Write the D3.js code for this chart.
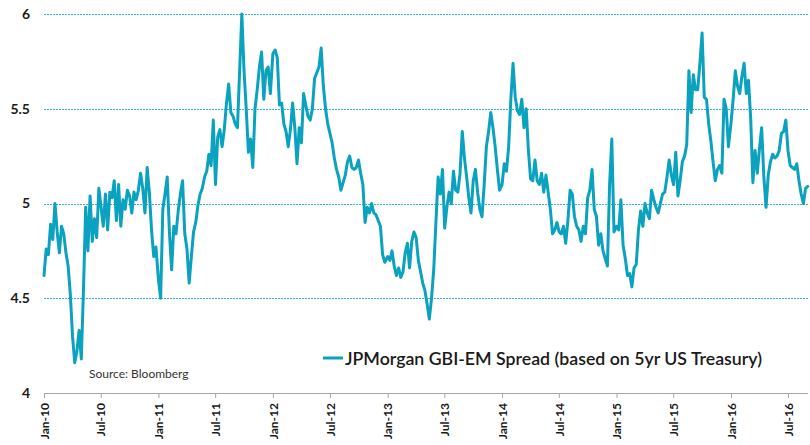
<!DOCTYPE html>
<html>
<head>
<meta charset="utf-8">
<script src="https://cdn.jsdelivr.net/npm/d3@7/dist/d3.min.js"></script>
<style>
  html, body { margin: 0; padding: 0; background: #fff; }
  svg { display: block; }
</style>
</head>
<body>
<svg id="chart" width="810" height="445"></svg>
<script>
// Weekly readings of the JPMorgan GBI-EM spread, one array per calendar year
const spread2010 = [4.62,4.76,4.73,4.89,4.81,5.00,4.85,4.74,4.88,4.84,4.74,4.67,4.52,4.30,4.16,4.22,4.33,4.18,4.55,4.98,4.75,5.04,4.80,4.92,4.82,5.08,4.98,4.88,5.05,4.86,5.06,5.03,5.12,4.91,5.10,4.88,5.02,4.97,5.07,5.04,4.95,5.06,5.02,5.07,5.16,5.08,4.95,5.19,5.06,4.86,4.72,4.77];
const spread2011 = [4.60,4.50,4.97,5.05,5.14,4.85,4.65,4.88,4.84,4.96,5.05,5.12,4.84,4.76,4.58,4.72,4.85,4.90,4.99,5.05,5.08,5.14,5.17,5.26,5.20,5.44,5.10,5.35,5.39,5.30,5.39,5.53,5.63,5.48,5.46,5.42,5.40,5.70,6.00,5.70,5.50,5.27,5.34,5.19,5.50,5.60,5.72,5.80,5.55,5.70,5.72,5.58];
const spread2012 = [5.79,5.81,5.77,5.52,5.53,5.42,5.38,5.30,5.39,5.53,5.40,5.21,5.40,5.32,5.58,5.52,5.46,5.44,5.50,5.66,5.69,5.72,5.82,5.62,5.50,5.42,5.37,5.32,5.24,5.18,5.14,5.07,5.11,5.15,5.22,5.25,5.19,5.18,5.19,5.23,5.16,5.10,4.90,4.98,4.95,5.00,4.95,4.94,4.91,4.88,4.73,4.69];
const spread2013 = [4.72,4.70,4.75,4.67,4.62,4.66,4.61,4.64,4.74,4.79,4.66,4.80,4.85,4.82,4.70,4.64,4.58,4.54,4.47,4.39,4.50,4.65,4.90,5.14,5.05,5.18,4.87,4.98,5.06,5.00,5.17,5.07,5.06,5.16,5.38,5.24,5.14,5.03,4.95,5.12,5.18,5.06,4.97,4.93,5.10,5.30,5.38,5.48,5.40,5.30,5.18,5.07];
const spread2014 = [5.10,5.21,5.17,5.30,5.55,5.74,5.56,5.49,5.47,5.55,5.40,5.50,5.28,5.13,5.12,5.23,5.12,5.10,5.16,5.06,5.15,5.06,4.97,4.84,4.86,4.90,4.85,4.84,4.88,4.79,4.91,5.07,5.05,4.93,4.88,4.86,4.80,4.88,4.84,5.03,5.07,5.18,4.97,4.93,4.78,4.84,4.75,4.71,4.67,5.10,5.34,4.85];
const spread2015 = [4.88,4.86,5.02,4.78,4.71,4.62,4.63,4.56,4.66,4.68,4.86,4.96,4.88,5.00,4.95,4.92,5.07,5.02,4.98,4.95,5.00,5.05,5.06,5.14,5.23,5.15,5.10,5.27,5.04,5.12,5.22,5.25,5.31,5.70,5.48,5.68,5.60,5.60,5.74,5.90,5.56,5.55,5.42,5.33,5.22,5.12,5.18,5.20,5.16,5.55,5.50,5.30];
const spread2016 = [5.42,5.55,5.70,5.62,5.58,5.67,5.74,5.58,5.65,5.45,5.11,5.28,5.16,5.29,5.40,5.14,4.98,5.15,5.22,5.26,5.24,5.25,5.28,5.37,5.38,5.44,5.28,5.20,5.19,5.18,5.21,5.12,5.05,5.00,5.08,5.09];

const yearlySeries = [
  [2010, spread2010], [2011, spread2011], [2012, spread2012], [2013, spread2013],
  [2014, spread2014], [2015, spread2015], [2016, spread2016]
];

// Axis ticks and labels
const yTicks = [4, 4.5, 5, 5.5, 6];
const gridValues = [4.5, 5, 5.5, 6];
const xTickDates = [
  "2010-01-01","2010-07-01","2011-01-01","2011-07-01","2012-01-01","2012-07-01",
  "2013-01-01","2013-07-01","2014-01-01","2014-07-01","2015-01-01","2015-07-01",
  "2016-01-01","2016-07-01"
];
const seriesName = "JPMorgan GBI-EM Spread (based on 5yr US Treasury)";
const sourceNote = "Source:  Bloomberg";

// One point per week, each year starting on 1 January
const points = yearlySeries.flatMap(([year, vals]) =>
  vals.map((v, i) => ({ date: new Date(year, 0, 1 + 7 * i), value: v }))
);

const svg = d3.select("#chart");
const lineColor = "#0aa2be";
const gridColor = "#33b6cd";
const plotLeft = 44, plotRight = 808, plotTop = 14, plotBottom = 393;

const x = d3.scaleTime()
  .domain([new Date(2010, 0, 1), new Date(2016, 6, 1)])
  .range([plotLeft, 788]);

const y = d3.scaleLinear()
  .domain([4, 6])
  .range([plotBottom, plotTop]);

// Dotted horizontal gridlines
svg.append("g")
  .selectAll("line")
  .data(gridValues)
  .join("line")
  .attr("x1", plotLeft)
  .attr("x2", plotRight)
  .attr("y1", d => Math.round(y(d)) + 0.5)
  .attr("y2", d => Math.round(y(d)) + 0.5)
  .attr("stroke", gridColor)
  .attr("stroke-width", 1)
  .attr("stroke-dasharray", "2 1");

// Y axis labels
const yAxis = svg.append("g")
  .attr("transform", `translate(${plotLeft},0)`)
  .call(d3.axisLeft(y).tickValues(yTicks).tickSize(0).tickPadding(14).tickFormat(d => String(d)));
yAxis.select(".domain").remove();
yAxis.selectAll("text")
  .attr("font-family", "Lato, 'Open Sans', sans-serif")
  .attr("font-weight", "bold")
  .attr("font-size", 14)
  .attr("fill", "#1a1a1a");

// X axis with rotated month labels
const xAxis = svg.append("g")
  .attr("transform", `translate(0,${plotBottom})`)
  .call(d3.axisBottom(x)
    .tickValues(xTickDates.map(s => d3.timeParse("%Y-%m-%d")(s)))
    .tickSize(5)
    .tickFormat(d3.timeFormat("%b-%y")));
xAxis.select(".domain")
  .attr("d", `M${plotLeft},0.5H${plotRight}`)
  .attr("stroke", "#a6a6a6")
  .attr("stroke-width", 1);
xAxis.selectAll(".tick line").attr("stroke", "#a6a6a6");
xAxis.selectAll("text")
  .attr("transform", "rotate(-90)")
  .attr("x", -10)
  .attr("y", 0)
  .attr("dy", "0.35em")
  .style("text-anchor", "end")
  .attr("font-family", "Lato, 'Open Sans', sans-serif")
  .attr("font-weight", "bold")
  .attr("font-size", 12)
  .attr("fill", "#1a1a1a");

// Spread line
const line = d3.line()
  .x(d => x(d.date))
  .y(d => y(d.value));

svg.append("path")
  .datum(points)
  .attr("fill", "none")
  .attr("stroke", lineColor)
  .attr("stroke-width", 3)
  .attr("stroke-linejoin", "round")
  .attr("stroke-linecap", "round")
  .attr("d", line);

// Legend
const legend = svg.append("g").attr("transform", "translate(323,358)");
legend.append("line")
  .attr("x1", 0).attr("x2", 20)
  .attr("y1", 0).attr("y2", 0)
  .attr("stroke", lineColor)
  .attr("stroke-width", 3);
legend.append("text")
  .attr("x", 22)
  .attr("y", 7)
  .attr("font-family", "Lato, 'Open Sans', sans-serif")
  .attr("font-size", 18)
  .attr("font-weight", 600)
  .attr("fill", "#1a1a1a")
  .attr("textLength", 417)
  .attr("lengthAdjust", "spacingAndGlyphs")
  .text(seriesName);

// Source note
svg.append("text")
  .attr("x", 89)
  .attr("y", 378)
  .attr("font-family", "Lato, 'Open Sans', sans-serif")
  .attr("font-size", 12)
  .attr("fill", "#333")
  .text(sourceNote);
</script>
</body>
</html>
